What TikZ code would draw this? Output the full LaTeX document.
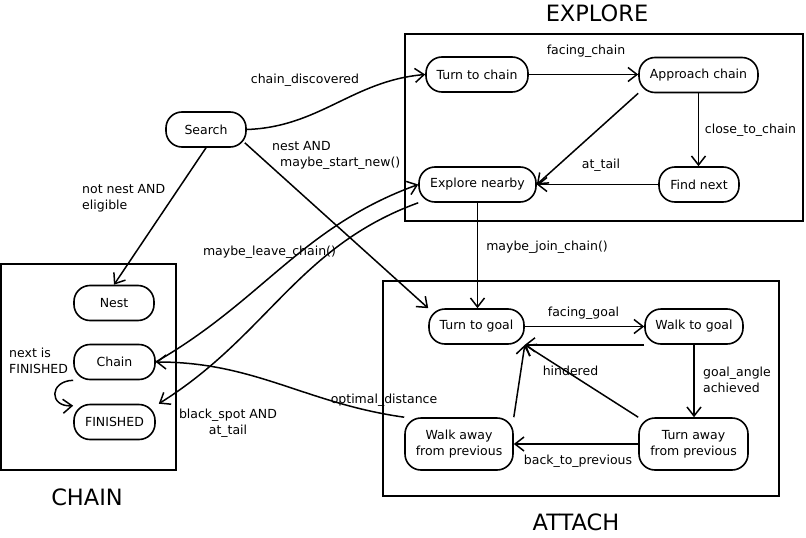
\documentclass[tikz,border=0pt]{standalone}
\usepackage{fontspec}
\setmainfont{DejaVu Sans}
\usetikzlibrary{arrows.meta}
\begin{document}
\begin{tikzpicture}[x=1pt,y=1pt,
  every node/.style={font=\fontsize{12.5}{16}\selectfont},
  statebox/.style={draw, line width=1.6pt, rounded corners=16pt, minimum height=35pt, inner sep=2pt, align=center},
  bigstate/.style={statebox, minimum height=52pt},
  arr/.style={line width=1.5pt, -{Straight Barb[length=9pt,width=14pt,line width=1.5pt]}},
  group/.style={line width=2pt},
  title/.style={font=\fontsize{22.5}{26}\selectfont},
  lbl/.style={inner sep=0pt}]
\useasboundingbox (0,0) rectangle (806,-538);
% group boxes
\draw[group] (405,-34) rectangle (803,-221);
\draw[group] (383,-281) rectangle (779,-496);
\draw[group] (1,-264) rectangle (176,-470);
\node[title] (texplore) at (597,-13) {EXPLORE};
\node[title] (tattach) at (576,-522) {ATTACH};
\node[title] (tchain) at (87,-497) {CHAIN};
% states
\node[statebox, minimum width=80pt] (search) at (206,-129.5) {Search};
\node[statebox, minimum width=102pt] (turnchain) at (477,-74.5) {Turn to chain};
\node[statebox, minimum width=119pt] (approach) at (698.5,-75) {Approach chain};
\node[statebox, minimum width=117pt] (explore) at (477.5,-184.5) {Explore nearby};
\node[statebox, minimum width=80pt] (findnext) at (699,-184.5) {Find next};
\node[statebox, minimum width=95pt] (turngoal) at (476.5,-326.5) {Turn to goal};
\node[statebox, minimum width=98pt] (walkgoal) at (694,-326.5) {Walk to goal};
\node[bigstate, minimum width=108pt] (walkaway) at (459,-444) {Walk away\\from previous};
\node[bigstate, minimum width=109pt] (turnaway) at (693.5,-444) {Turn away\\from previous};
\node[statebox, minimum width=80pt] (nest) at (114,-303) {Nest};
\node[statebox, minimum width=81pt] (chain) at (114.5,-362) {Chain};
\node[statebox, minimum width=81pt] (finished) at (114.5,-422) {FINISHED};
% connectors
\draw[arr] (search.east) to[out=2,in=185] (turnchain.west);
\draw[arr] (turnchain.east) -- (turnchain.east -| approach.west);
\draw[arr] (approach.south) -- (approach.south |- findnext.north);
\draw[arr] (approach.south west) -- (explore.east);
\draw[arr] (findnext.west) -- (explore.east);
\draw[arr] (search.south) -- (nest.north);
\draw[arr] ([xshift=-2pt,yshift=5pt]search.south east) -- (turngoal.north west);
\draw[arr] (explore.south) -- (explore.south |- turngoal.north);
\draw[arr] (chain.east) to[out=30,in=200] (explore.west);
\draw[arr] (explore.south west) to[out=200,in=32] ([xshift=3pt]finished.north east);
\draw[arr] (walkaway.north west) to[out=172,in=0] (chain.east);
\draw[arr] (chain.south west) .. controls (49,-381) and (49,-407) .. ([yshift=-2pt]finished.north west);
\draw[arr] (turngoal.east) -- (walkgoal.west);
\draw[arr] (walkgoal.south west) -- (turngoal.south east);
\draw[arr] (walkgoal.south) -- (walkgoal.south |- turnaway.north);
\draw[arr] (turnaway.west) -- (walkaway.east);
\draw[arr] (turnaway.north west) -- (turngoal.south east);
\draw[arr] (walkaway.north east) -- (turngoal.south east);
% labels
\node[lbl] (l1) at (305,-80) {chain\_discovered};
\node[lbl] (l2) at (586,-51) {facing\_chain};
\node[lbl] (l3) at (750.5,-130) {close\_to\_chain};
\node[lbl] (l4) at (601,-165) {at\_tail};
\node[lbl, anchor=west, align=left] (l5) at (82,-198) {not nest AND\\eligible};
\node[lbl, anchor=west, align=left] (l6) at (272,-155.5) {nest AND\\\hspace*{8pt}maybe\_start\_new()};
\node[lbl] (l7) at (547,-247) {maybe\_join\_chain()};
\node[lbl] (l8) at (269.5,-252) {maybe\_leave\_chain()};
\node[lbl, align=center] (l9) at (228,-423) {black\_spot AND\\at\_tail};
\node[lbl, anchor=west, align=left] (l10) at (9,-361) {next is\\FINISHED};
\node[lbl] (l11) at (384,-400) {optimal\_distance};
\node[lbl] (l12) at (583.5,-313) {facing\_goal};
\node[lbl] (l13) at (570.5,-371) {hindered};
\node[lbl, anchor=west, align=left] (l14) at (703,-380) {goal\_angle\\achieved};
\node[lbl] (l15) at (578,-461) {back\_to\_previous};
\end{tikzpicture}
\end{document}
